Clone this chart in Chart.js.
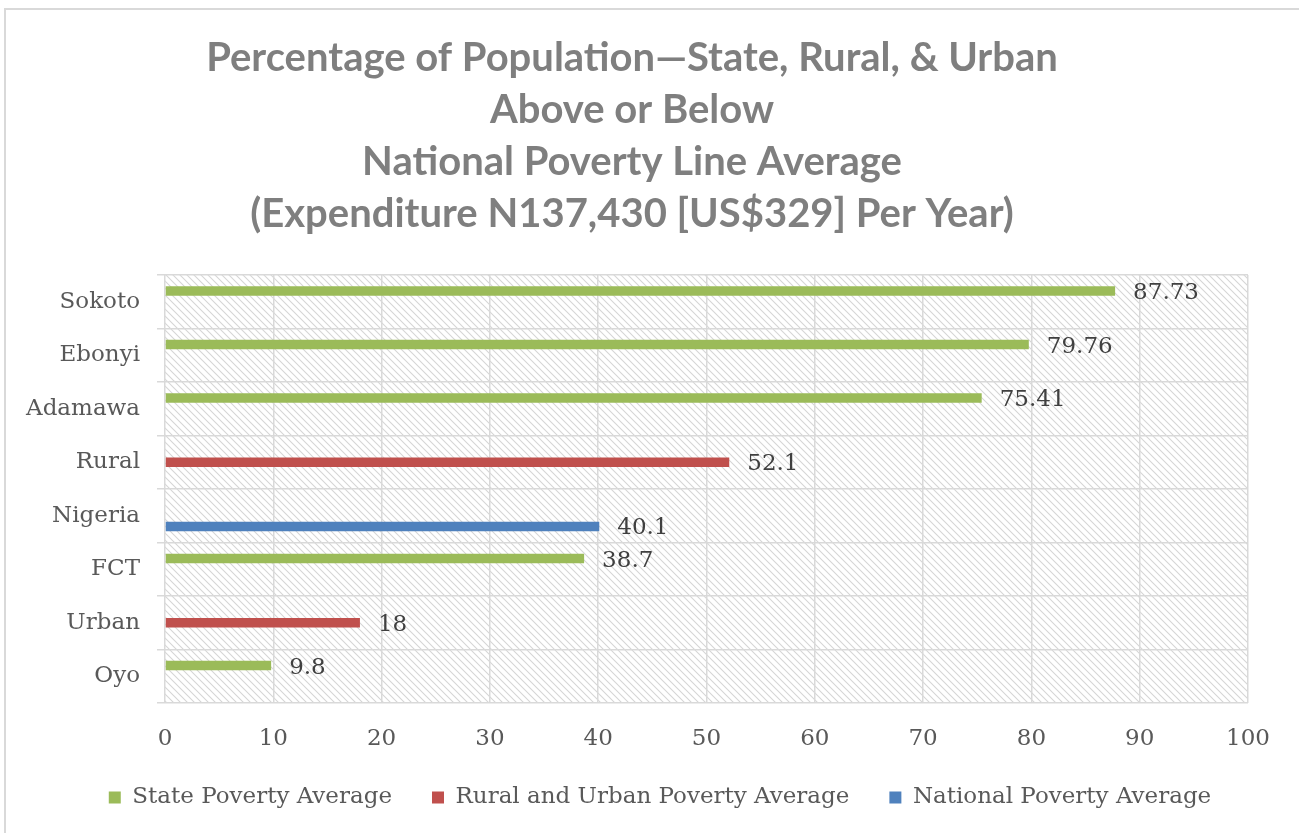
<!DOCTYPE html>
<html>
<head>
<meta charset="utf-8">
<script src="https://cdn.jsdelivr.net/npm/chart.js@4.4.1/dist/chart.umd.min.js"></script>
<style>
    html, body { margin: 0; padding: 0; background: #fff; overflow: hidden; }
    #wrap { position: absolute; left: 4px; top: 8px; width: 1295px; height: 825px;
            border-left: 2px solid #d9d9d9; border-top: 2px solid #d9d9d9; }
    canvas { display: block; }
</style>
</head>
<body>
<div id="wrap"><canvas id="povertyChart" width="1293" height="823"></canvas></div>
<script>
// chart data
const categories = ["Sokoto", "Ebonyi", "Adamawa", "Rural", "Nigeria", "FCT", "Urban", "Oyo"];
const stateValues = [87.73, 79.76, 75.41, null, null, 38.7, null, 9.8];
const ruralUrbanValues = [null, null, null, 52.1, null, null, 18, null];
const nationalValues = [null, null, null, null, 40.1, null, null, null];
const xTicks = [0, 10, 20, 30, 40, 50, 60, 70, 80, 90, 100];
const titleLines = [
    "Percentage of Population\u2014State, Rural, & Urban",
    "Above or Below",
    "National Poverty Line Average",
    "(Expenditure N137,430 [US$329] Per Year)"
];

const serif = "'DejaVu Serif', serif";

// diagonal hatch for plot background
function makeHatch() {
    const c = document.createElement("canvas");
    c.width = 7; c.height = 7;
    const g = c.getContext("2d");
    g.fillStyle = "#fff";
    g.fillRect(0, 0, 7, 7);
    g.strokeStyle = "#d6d6d6";
    g.lineWidth = 1.1;
    g.beginPath();
    g.moveTo(-1, -1); g.lineTo(8, 8);
    g.moveTo(-1, 6); g.lineTo(1, 8);
    g.moveTo(6, -1); g.lineTo(8, 1);
    g.stroke();
    return c;
}

const hatchBg = {
    id: "hatchBg",
    afterLayout(chart) {
        // nudge the legend row to the right like the original
        chart.legend.left += 28;
        chart.legend.right += 28;
    },
    beforeDraw(chart) {
        const { ctx, chartArea: a } = chart;
        ctx.save();
        ctx.fillStyle = ctx.createPattern(makeHatch(), "repeat");
        ctx.fillRect(a.left, a.top, a.right - a.left, a.bottom - a.top);
        ctx.restore();
    }
};

// value text after each bar end
const valueLabels = {
    id: "valueLabels",
    afterDatasetsDraw(chart) {
        const ctx = chart.ctx;
        ctx.save();
        ctx.font = "23px " + serif;
        ctx.fillStyle = "#404040";
        ctx.textBaseline = "middle";
        chart.data.datasets.forEach((ds, i) => {
            chart.getDatasetMeta(i).data.forEach((bar, j) => {
                const v = ds.data[j];
                if (v === null) return;
                ctx.fillText(String(v), bar.x + 18, bar.y + 2);
            });
        });
        ctx.restore();
    }
};

const ctx = document.getElementById("povertyChart").getContext("2d");
new Chart(ctx, {
    type: "bar",
    data: {
        labels: categories,
        datasets: [
            { label: "State Poverty Average", data: stateValues, backgroundColor: "#9bbb59" },
            { label: "Rural and Urban Poverty Average", data: ruralUrbanValues, backgroundColor: "#c0504d" },
            { label: "National Poverty Average", data: nationalValues, backgroundColor: "#4f81bd" }
        ]
    },
    options: {
        indexAxis: "y",
        responsive: false,
        animation: false,
        categoryPercentage: 0.6,
        barPercentage: 0.9,
        layout: { padding: { left: 10, right: 51, top: 10, bottom: 14 } },
        scales: {
            x: {
                min: 0, max: 100,
                afterBuildTicks: (axis) => { axis.ticks = xTicks.map((v) => ({ value: v })); },
                afterFit: (axis) => { axis.height = 43; },
                grid: { color: "#d9d9d9", lineWidth: 1.5, drawTicks: false },
                border: { display: false },
                ticks: { color: "#595959", font: { family: serif, size: 23 }, padding: 22 }
            },
            y: {
                afterFit: (axis) => { axis.width = 149; },
                grid: { color: "#d9d9d9", lineWidth: 1.5, offset: true, tickLength: 8 },
                border: { display: false },
                ticks: { color: "#595959", font: { family: serif, size: 23 }, padding: 17 }
            }
        },
        plugins: {
            title: {
                display: true,
                text: titleLines,
                color: "#7f7f7f",
                font: { family: "Lato", size: 40, weight: "bold", lineHeight: 1.3 },
                padding: { top: 12, bottom: 35 }
            },
            legend: {
                position: "bottom",
                labels: {
                    color: "#595959",
                    font: { family: serif, size: 23 },
                    boxWidth: 12, boxHeight: 12,
                    padding: 40
                }
            },
            tooltip: { enabled: false }
        }
    },
    plugins: [hatchBg, valueLabels]
});
</script>
</body>
</html>
